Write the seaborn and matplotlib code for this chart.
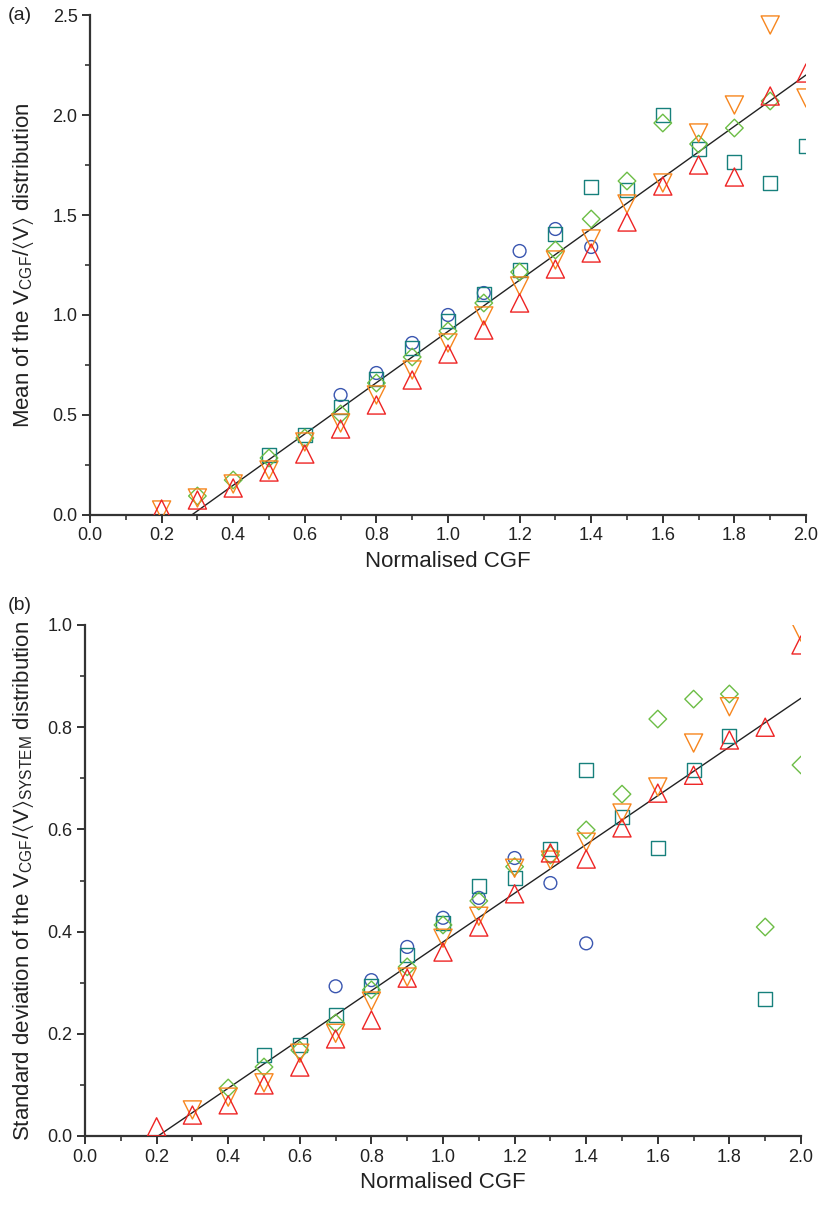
import numpy as np
import pandas as pd
import matplotlib
matplotlib.use("Agg")
import matplotlib.pyplot as plt
from matplotlib.ticker import MultipleLocator, FormatStrFormatter
import seaborn as sns

sns.set_style("ticks")
plt.rcParams['font.family'] = ['Liberation Sans', 'DejaVu Sans']
plt.rcParams['mathtext.fontset'] = 'custom'
plt.rcParams['mathtext.rm'] = 'Liberation Sans'
plt.rcParams['mathtext.it'] = 'Liberation Sans:italic'
plt.rcParams['mathtext.bf'] = 'Liberation Sans:bold'
plt.rcParams['mathtext.fallback'] = 'stixsans'

x_cgf = [0.2, 0.3, 0.4, 0.5, 0.6, 0.7, 0.8, 0.9, 1.0, 1.1, 1.2, 1.3, 1.4, 1.5, 1.6, 1.7, 1.8, 1.9, 2.0]
N = None

# Panel (a): mean
mean_blue   = [N, N, N, N, N, 0.60, 0.71, 0.86, 1.00, 1.11, 1.32, 1.43, 1.34, N, N, N, N, N, N]
mean_teal   = [N, N, N, 0.30, 0.40, 0.54, 0.68, 0.835, 0.97, 1.105, 1.225, 1.405, 1.64, 1.625, 2.00, 1.83, 1.765, 1.66, 1.845]
mean_green  = [N, 0.095, 0.175, 0.285, 0.385, 0.505, 0.66, 0.79, 0.92, 1.06, 1.215, 1.325, 1.48, 1.67, 1.96, 1.855, 1.935, 2.07, N]
mean_orange = [0.025, 0.085, 0.155, 0.225, 0.365, 0.46, 0.60, 0.725, 0.86, 0.995, 1.145, 1.275, 1.38, 1.555, 1.66, 1.91, 2.05, 2.45, 2.085]
mean_red    = [0.03, 0.075, 0.135, 0.215, 0.305, 0.43, 0.55, 0.675, 0.805, 0.925, 1.06, 1.23, 1.31, 1.465, 1.645, 1.75, 1.69, 2.095, 2.21]

# Panel (b): standard deviation
sd_blue   = [N, N, N, N, N, 0.293, 0.305, 0.37, 0.427, 0.466, 0.544, 0.495, 0.377, N, N, N, N, N, N]
sd_teal   = [N, N, N, 0.159, 0.178, 0.237, 0.293, 0.354, 0.417, 0.489, 0.505, 0.562, 0.716, 0.624, 0.564, 0.716, 0.783, 0.268, N]
sd_green  = [N, N, 0.094, 0.135, 0.168, 0.221, 0.286, 0.331, 0.413, 0.46, 0.527, 0.55, 0.599, 0.669, 0.816, 0.855, 0.865, 0.409, 0.726]
sd_orange = [N, 0.051, 0.076, 0.104, 0.162, 0.201, 0.264, 0.311, 0.387, 0.43, 0.524, 0.54, 0.575, 0.632, 0.683, 0.769, 0.84, N, 0.986]
sd_red    = [0.018, 0.041, 0.061, 0.10, 0.135, 0.19, 0.227, 0.309, 0.36, 0.409, 0.474, 0.554, 0.542, 0.603, 0.671, 0.706, 0.775, 0.80, 0.961]

# Linear fits: y = slope * (x - x0)
fit_a_x0, fit_a_slope = 0.284, 1.282
fit_b_x0, fit_b_slope = 0.204, 0.477

series_styles = [
    ("blue", "o", "#3a56b0", 85),
    ("teal", "s", "#17807c", 100),
    ("green", "D", "#6cbd45", 80),
    ("orange", "v", "#f7861e", 170),
    ("red", "^", "#ee2424", 170),
]

fig = plt.figure(figsize=(8.22, 12.11), dpi=100)
ax_a = fig.add_axes([90/822, 1-515/1211, 716/822, 500/1211])
ax_b = fig.add_axes([85/822, 1-1136/1211, 716/822, 511/1211])

def draw(ax, data_lists, x0, slope, ymax, ymajor, yminor, ylabel, tag, ylabelpad):
    for (name, mk, col, s), vals in zip(series_styles, data_lists):
        df = pd.DataFrame({"x": x_cgf, "y": [np.nan if v is None else v for v in vals]}).dropna()
        sns.scatterplot(data=df, x="x", y="y", marker=mk, s=s, facecolors="none",
                        edgecolors=col, linewidth=1.0, ax=ax, clip_on=True, zorder=3)
    lx = np.array([x0, 2.0])
    ly = slope * (lx - x0)
    sns.lineplot(x=lx, y=ly, color="#222222", linewidth=1.0, ax=ax, zorder=2)
    ax.set_xlim(0, 2.0)
    ax.set_ylim(0, ymax)
    ax.xaxis.set_major_locator(MultipleLocator(0.2))
    ax.xaxis.set_minor_locator(MultipleLocator(0.1))
    ax.yaxis.set_major_locator(MultipleLocator(ymajor))
    ax.yaxis.set_minor_locator(MultipleLocator(yminor))
    ax.xaxis.set_major_formatter(FormatStrFormatter("%.1f"))
    ax.yaxis.set_major_formatter(FormatStrFormatter("%.1f"))
    for sp in ["top", "right"]:
        ax.spines[sp].set_visible(False)
    for sp in ["left", "bottom"]:
        ax.spines[sp].set_linewidth(1.6)
        ax.spines[sp].set_color("#333333")
    ax.tick_params(which="major", direction="out", length=6, width=1.4, color="#333333",
                   labelsize=13, labelcolor="#222222", pad=3)
    ax.tick_params(which="minor", direction="out", length=3.5, width=1.2, color="#333333")
    ax.set_xlabel("Normalised CGF", fontsize=16, color="#222222", labelpad=5)
    ax.set_ylabel(ylabel, fontsize=16, color="#222222", labelpad=ylabelpad)
    ax.text(8/822, 0, tag, transform=ax.transAxes, fontsize=14, color="#222222",
            ha="left", va="center")

draw(ax_a, [mean_blue, mean_teal, mean_green, mean_orange, mean_red],
     fit_a_x0, fit_a_slope, 2.5, 0.5, 0.25,
     r"Mean of the V$_\mathregular{CGF}$/$\langle$V$\rangle$ distribution", "(a)", 12)
draw(ax_b, [sd_blue, sd_teal, sd_green, sd_orange, sd_red],
     fit_b_x0, fit_b_slope, 1.0, 0.2, 0.1,
     r"Standard deviation of the V$_\mathregular{CGF}$/$\langle$V$\rangle_\mathregular{SYSTEM}$ distribution", "(b)", 8)

# place panel tags in figure coordinates
for t, ax, ypix in [(ax_a.texts[-1], ax_a, 15), (ax_b.texts[-1], ax_b, 605)]:
    t.set_transform(fig.transFigure)
    t.set_position((8/822, 1 - ypix/1211))

fig.savefig("out.png", dpi=100)
